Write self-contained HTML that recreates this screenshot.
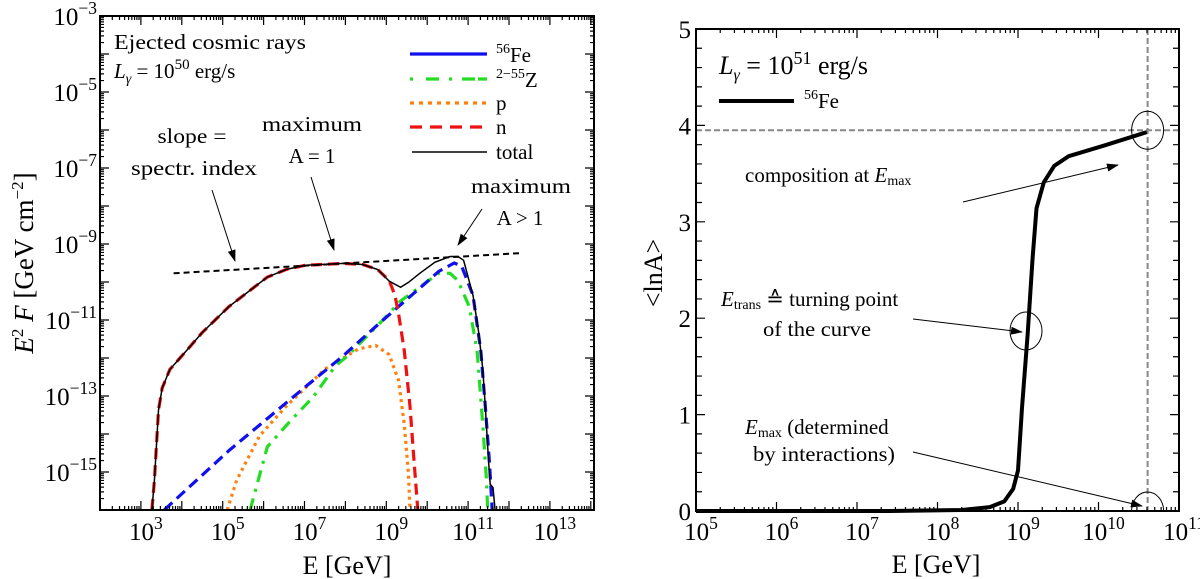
<!DOCTYPE html>
<html><head><meta charset="utf-8">
<style>
html,body{margin:0;padding:0;background:#fff;}
svg{display:block;font-family:"Liberation Serif",serif;}
</style></head>
<body>
<svg id="fig" width="1200" height="579" viewBox="0 0 1200 579" xmlns="http://www.w3.org/2000/svg">
<defs>
<marker id="ah" markerWidth="12" markerHeight="8" refX="11" refY="4" orient="auto" markerUnits="userSpaceOnUse"><path d="M0,0 L12,4 L0,8 z" fill="#000"/></marker>
</defs>
<g id="left"></g>
<g id="right"></g>
<g font-size="21">
<text x="114" y="49" textLength="192" lengthAdjust="spacingAndGlyphs">Ejected cosmic rays</text>
<text x="114" y="78"><tspan font-style="italic">L</tspan><tspan font-size="14" dy="5" font-style="italic">γ</tspan><tspan dy="-5"> = 10</tspan><tspan font-size="15" dy="-9">50</tspan><tspan dy="9"> erg/s</tspan></text>
<text x="192" y="143" text-anchor="middle" textLength="69" lengthAdjust="spacingAndGlyphs">slope =</text>
<text x="194" y="175" text-anchor="middle" textLength="126" lengthAdjust="spacingAndGlyphs">spectr. index</text>
<text x="312" y="131" text-anchor="middle" textLength="100" lengthAdjust="spacingAndGlyphs">maximum</text>
<text x="312" y="163" text-anchor="middle">A = 1</text>
<text x="521" y="193" text-anchor="middle" textLength="100" lengthAdjust="spacingAndGlyphs">maximum</text>
<text x="520" y="225" text-anchor="middle">A &gt; 1</text>
<line x1="212" y1="190" x2="235" y2="261" stroke="#000" stroke-width="1" marker-end="url(#ah)"/>
<line x1="311" y1="177" x2="334" y2="250" stroke="#000" stroke-width="1" marker-end="url(#ah)"/>
<line x1="482" y1="209" x2="458" y2="245" stroke="#000" stroke-width="1" marker-end="url(#ah)"/>
<g>
<line x1="410" y1="54" x2="487" y2="54" stroke="#1010ee" stroke-width="3.2"/>
<text x="496" y="62"><tspan font-size="14" dy="-9">56</tspan><tspan dy="9">Fe</tspan></text>
<line x1="410" y1="79" x2="487" y2="79" stroke="#22dd22" stroke-width="3.2" stroke-dasharray="3,13,13,10,3,10,13"/>
<text x="496" y="87"><tspan font-size="14" dy="-9">2−55</tspan><tspan dy="9">Z</tspan></text>
<line x1="410" y1="103" x2="487" y2="103" stroke="#ff7f0e" stroke-width="3.2" stroke-dasharray="4,5"/>
<text x="496" y="110">p</text>
<line x1="410" y1="127" x2="487" y2="127" stroke="#ee1111" stroke-width="3.2" stroke-dasharray="12,8"/>
<text x="496" y="134">n</text>
<line x1="412" y1="152" x2="487" y2="152" stroke="#000" stroke-width="1.5"/>
<text x="496" y="159">total</text>
</g>
<text x="347" y="574" text-anchor="middle" font-size="26">E [GeV]</text>
<text transform="translate(33,263) rotate(-90)" text-anchor="middle" font-size="27"><tspan font-style="italic">E</tspan><tspan font-size="17" dy="-10">2</tspan><tspan dy="10"> </tspan><tspan font-style="italic">F</tspan> [GeV cm<tspan font-size="17" dy="-10">−2</tspan><tspan dy="10">]</tspan></text>
</g>
<g font-size="21">
<text x="719" y="74" font-size="26"><tspan font-style="italic">L</tspan><tspan font-size="16" dy="6" font-style="italic">γ</tspan><tspan dy="-6"> = 10</tspan><tspan font-size="18" dy="-10">51</tspan><tspan dy="10"> erg/s</tspan></text>
<line x1="719" y1="101" x2="794" y2="101" stroke="#000" stroke-width="4"/>
<text x="804" y="108"><tspan font-size="14" dy="-9">56</tspan><tspan dy="9">Fe</tspan></text>
<text x="745" y="182">composition at <tspan font-style="italic">E</tspan><tspan font-size="14" dy="3">max</tspan></text>
<text x="721" y="306"><tspan font-style="italic">E</tspan><tspan font-size="14" dy="3">trans</tspan><tspan dy="-3"> ≙ turning point</tspan></text>
<text x="817" y="336" text-anchor="middle" textLength="108" lengthAdjust="spacingAndGlyphs">of the curve</text>
<text x="745" y="434"><tspan font-style="italic">E</tspan><tspan font-size="14" dy="3">max</tspan><tspan dy="-3"> (determined</tspan></text>
<text x="824" y="461" text-anchor="middle" textLength="142" lengthAdjust="spacingAndGlyphs">by interactions)</text>
<line x1="963" y1="202" x2="1118" y2="165" stroke="#000" stroke-width="1" marker-end="url(#ah)"/>
<line x1="913" y1="319" x2="1022" y2="332" stroke="#000" stroke-width="1" marker-end="url(#ah)"/>
<line x1="913" y1="452" x2="1142" y2="506" stroke="#000" stroke-width="1" marker-end="url(#ah)"/>
<text x="936" y="573" text-anchor="middle" font-size="26">E [GeV]</text>
<text transform="translate(662,273) rotate(-90)" text-anchor="middle" font-size="26">&lt;lnA&gt;</text>
</g>
</svg>
<script>
// ---------- Left chart data (log10 E, log10 E^2F) ----------
const nLogE = [3.27,3.33,3.43,3.52,3.71,4.03,4.50,5.15,5.62,6.09,6.55,7.02,7.95,8.42,8.79,9.07,9.21,9.30,9.44,9.58,9.68,9.77];
const nLogF = [-16.0,-15.22,-13.37,-12.79,-12.30,-11.91,-11.33,-10.65,-10.26,-9.87,-9.67,-9.56,-9.51,-9.54,-9.67,-9.96,-10.35,-10.84,-11.81,-13.27,-14.73,-16.0];
const totLogE = [3.27,3.33,3.43,3.52,3.71,4.03,4.50,5.15,5.62,6.09,6.55,7.02,7.95,8.42,8.79,9.07,9.35,9.54,9.82,10.19,10.56,10.75,10.89,11.12,11.26,11.36,11.42,11.50,11.54,11.61,11.66];
const totLogF = [-16.0,-15.22,-13.37,-12.79,-12.30,-11.91,-11.33,-10.65,-10.26,-9.87,-9.67,-9.56,-9.51,-9.54,-9.67,-9.98,-10.14,-10.01,-9.77,-9.48,-9.33,-9.33,-9.43,-10.35,-11.33,-12.30,-13.27,-14.73,-15.32,-15.41,-16.0];
const feLogE = [3.57,5.15,7.02,7.95,8.88,9.82,10.28,10.66,10.84,11.12,11.31,11.42,11.52,11.59];
const feLogF = [-16.0,-14.44,-12.76,-11.94,-11.04,-10.16,-9.72,-9.50,-9.58,-10.35,-11.81,-13.27,-14.73,-16.0];
const zLogE = [5.67,6.09,6.65,7.21,7.76,8.04,8.88,9.35,10.28,10.56,10.75,11.03,11.22,11.36,11.45,11.48];
const zLogF = [-16.0,-14.34,-13.66,-13.03,-12.20,-11.96,-11.04,-10.50,-9.77,-9.77,-9.96,-10.65,-11.81,-13.76,-15.22,-16.0];
const pLogE = [5.11,5.34,5.90,6.55,7.02,7.49,7.86,8.32,8.74,9.07,9.30,9.44,9.54,9.58];
const pLogF = [-16.0,-15.22,-14.05,-13.27,-12.79,-12.30,-12.06,-11.76,-11.67,-11.91,-12.59,-13.76,-15.02,-16.0];
const slopeLogE = [3.80,12.29];
const slopeLogF = [-9.77,-9.24];
const leftXTicks = [3,5,7,9,11,13];
const leftYTicks = [-3,-5,-7,-9,-11,-13,-15];
// ---------- Right chart data ----------
const rLogE = [5.0,7.41,8.30,8.65,8.83,8.94,9.00,9.05,9.12,9.18,9.23,9.32,9.45,9.63,10.07,10.60];
const rLnA = [0.0,0.0,0.01,0.04,0.10,0.23,0.42,1.07,1.84,2.61,3.14,3.41,3.58,3.68,3.79,3.93];
const rightXTicks = [5,6,7,8,9,10,11];
const rightYTicks = [0,1,2,3,4,5];
const emaxLogE = [10.61];
const emaxLnA = [3.95];

const NS="http://www.w3.org/2000/svg";
function mk(parent,tag,attrs){const e=document.createElementNS(NS,tag);for(const k in attrs)e.setAttribute(k,attrs[k]);parent.appendChild(e);return e;}

const LX0=100,LX1=594,LY0=16,LY1=510;
const lx=l=>LX0+(l-2)*40.9;
const ly=l=>LY0+(-3-l)*38;
const L=document.getElementById('left');
function lpath(xs,ys){return xs.map((v,i)=>(i?'L':'M')+lx(v).toFixed(1)+','+ly(ys[i]).toFixed(1)).join(' ');}
const lclip=mk(L,'clipPath',{id:'lclip'});mk(lclip,'rect',{x:LX0,y:LY0,width:LX1-LX0,height:LY1-LY0});
const curves=mk(L,'g',{'clip-path':'url(#lclip)'});
let e;
e=mk(curves,'path',{d:lpath(pLogE,pLogF),fill:'none',stroke:'#ff7f0e','stroke-width':3.2,'stroke-dasharray':'3,4'});


e=mk(curves,'path',{d:lpath(zLogE,zLogF),fill:'none',stroke:'#22dd22','stroke-width':3.2,'stroke-dasharray':'12,7,3,7'});


e=mk(curves,'path',{d:lpath(feLogE,feLogF),fill:'none',stroke:'#1010ee','stroke-width':3.2,'stroke-dasharray':'11,6'});


e=mk(curves,'path',{d:lpath(nLogE,nLogF),fill:'none',stroke:'#ee1111','stroke-width':3.2,'stroke-dasharray':'11,6'});


e=mk(curves,'path',{d:lpath(totLogE,totLogF),fill:'none',stroke:'#000','stroke-width':1.5});


e=mk(curves,'path',{d:lpath(slopeLogE,slopeLogF),fill:'none',stroke:'#000','stroke-width':2,'stroke-dasharray':'6,4'});


e=mk(L,'rect',{x:LX0,y:LY0,width:LX1-LX0,height:LY1-LY0,fill:'none',stroke:'#000','stroke-width':2});


let tk='';
for(let d=2;d<15;d++){for(let m=1;m<10;m++){const l=d+Math.log10(m);const x=lx(l);if(x<LX0||x>LX1)continue;const len=m==1?9:4;tk+=`M${x},${LY1}v${-len}M${x},${LY0}v${len}`;}}
for(let d=-16;d<-3;d++){for(let m=1;m<10;m++){const l=d+Math.log10(m);const y=ly(l);if(y<LY0||y>LY1)continue;const len=m==1?9:4;tk+=`M${LX0},${y}h${len}M${LX1},${y}h${-len}`;}}
e=mk(L,'path',{d:tk,stroke:'#000','stroke-width':1.2,fill:'none'});


function powLabel(parent,x,y,base,exp,anchor,size){const t=mk(parent,'text',{x:x,y:y,'font-size':size,'text-anchor':anchor});t.textContent=base;const s=mk(t,'tspan',{dy:-size*0.45,'font-size':size*0.7});s.textContent=exp;return t;}
leftXTicks.forEach(v=>{const t=powLabel(L,lx(v)+5,540,'10',String(v),'middle',25);

});
leftYTicks.forEach(v=>{const t=powLabel(L,97,ly(v)+9,'10','\u2212'+String(-v),'end',25);

});

const RX0=696,RX1=1179,RY0=29,RY1=511;
const rx=l=>RX0+(l-5)*80.5;
const ry=v=>RY1-v*96.4;
const R=document.getElementById('right');
e=mk(R,'path',{d:`M${RX0},${ry(emaxLnA[0])}H${RX1}M${rx(emaxLogE[0])},${RY0}V${RY1}`,stroke:'#888','stroke-width':2,'stroke-dasharray':'6,3',fill:'none'});


e=mk(R,'path',{d:rLogE.map((v,i)=>(i?'L':'M')+rx(v).toFixed(1)+','+ry(rLnA[i]).toFixed(1)).join(' '),fill:'none',stroke:'#000','stroke-width':4,'stroke-linejoin':'round'});


const rclip=mk(R,'clipPath',{id:'rclip'});mk(rclip,'rect',{x:RX0,y:RY0,width:RX1-RX0,height:RY1-RY0});
const cg=mk(R,'g',{'clip-path':'url(#rclip)'});
[[rx(emaxLogE[0]),ry(emaxLnA[0]),16,19],[1026,331,16,19],[rx(emaxLogE[0]),RY1,16,19]].forEach(c=>{
e=mk(cg,'ellipse',{cx:c[0],cy:c[1],rx:c[2],ry:c[3],fill:'none',stroke:'#000','stroke-width':1});

});
e=mk(R,'rect',{x:RX0,y:RY0,width:RX1-RX0,height:RY1-RY0,fill:'none',stroke:'#000','stroke-width':2});


tk='';
for(let d=5;d<11;d++){for(let m=1;m<10;m++){const x=rx(d+Math.log10(m));const len=m==1?9:4;tk+=`M${x},${RY1}v${-len}M${x},${RY0}v${len}`;}}
for(let i=0;i<=25;i++){const y=RY0+i*(RY1-RY0)/25;const len=i%5==0?9:6;tk+=`M${RX0},${y}h${len}M${RX1},${y}h${-len}`;}
e=mk(R,'path',{d:tk,stroke:'#000','stroke-width':1.2,fill:'none'});


rightXTicks.forEach(v=>{const t=powLabel(R,rx(v)+5,540,'10',String(v),'middle',25);

});
rightYTicks.forEach(v=>{const t=mk(R,'text',{x:691,y:ry(v)+9,'font-size':25,'text-anchor':'end'});t.textContent=String(v);

});
</script>
</body></html>
